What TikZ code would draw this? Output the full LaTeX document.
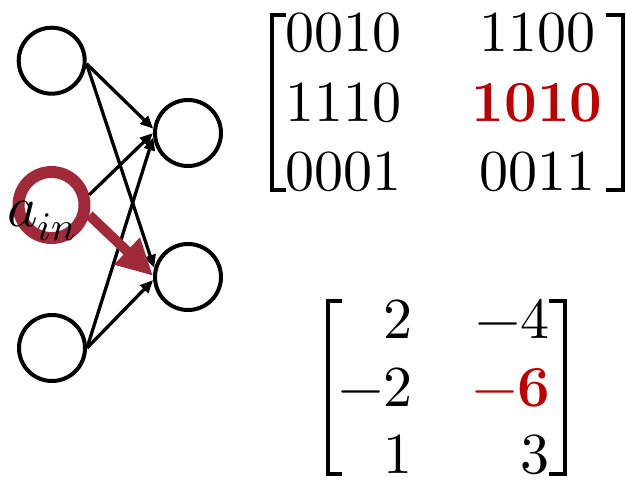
\documentclass[tikz,border=0pt]{standalone}
\usepackage{unicode-math}
\setmathfont{Latin Modern Math}
\usetikzlibrary{arrows.meta}
\definecolor{ringred}{RGB}{160,42,58}
\definecolor{txtred}{RGB}{192,0,0}
\tikzset{
  neuron/.style={circle,draw=black,line width=4pt,minimum size=66pt,inner sep=0pt},
  redneuron/.style={circle,draw=ringred,line width=12pt,minimum size=66pt,inner sep=0pt},
  conn/.style={line width=3.3pt,-{Triangle[length=13pt,width=11pt]}},
  redconn/.style={draw=ringred,line width=10pt,-{Triangle[length=36pt,width=35pt]}},
  brk/.style={line width=4pt,miter limit=10},
  num/.style={inner sep=0pt,font=\fontsize{58}{70}\selectfont},
}
\begin{document}
\begin{tikzpicture}[x=1pt,y=-1pt]
\useasboundingbox (0,0) rectangle (627,480);
% network
\node[neuron] (in1) at (51.7,60.7) {};
\node[neuron] (in3) at (52,348) {};
\node[neuron] (out1) at (188,133) {};
\node[neuron] (out2) at (188,277) {};
\draw[conn] (in1.-5) -- (out1.173);
\draw[conn] (in1.-5) -- (out2.165);
\draw[conn] (in3.east) -- (out1.187);
\draw[conn] (in3.east) -- (out2.185);
\node[redneuron] (in2) at (51.5,205) {};
\draw[conn] (in2.15) -- (out1.180);
\draw[redconn] (in2.-15) -- (out2.178);
\node[num,anchor=base west] (lab) at (7,226) {$a_{in}$};
% matrix 1
\draw[brk] (286,14.5) -- (272,14.5) -- (272,190) -- (286,190);
\draw[brk] (606,14.5) -- (622.5,14.5) -- (622.5,190) -- (606,190);
\node[num,anchor=base west] (a11) at (285.5,51) {$0010$};
\node[num,anchor=base west] (a21) at (285.5,121) {$1110$};
\node[num,anchor=base west] (a31) at (285.5,190) {$0001$};
\node[num,anchor=base] (a12) at (537,51) {$1100$};
\node[num,anchor=base] (a22) at (537,121) {$\color{txtred}\mathbf{1010}$};
\node[num,anchor=base] (a32) at (537,190) {$0011$};
% matrix 2
\draw[brk] (342,301) -- (328,301) -- (328,474) -- (342,474);
\draw[brk] (549,301) -- (564.5,301) -- (564.5,474) -- (549,474);
\node[num,anchor=base east] (b11) at (413,338) {$2$};
\node[num,anchor=base east] (b21) at (413,406) {$-2$};
\node[num,anchor=base east] (b31) at (413,473) {$1$};
\node[num,anchor=base east] (b12) at (550,338) {$-4$};
\node[num,anchor=base east] (b22) at (550,406) {$\color{txtred}-\mathbf{6}$};
\node[num,anchor=base east] (b32) at (550,473) {$3$};
\end{tikzpicture}
\end{document}
